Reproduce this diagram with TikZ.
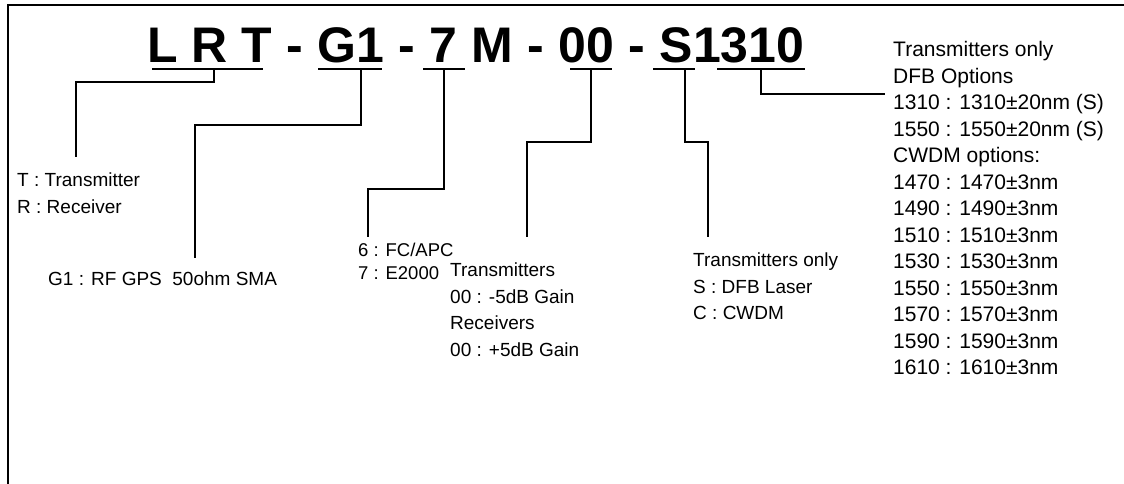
\documentclass[tikz,border=0pt]{standalone}
\usepackage{fontspec}
\setmainfont{Liberation Sans}
\usetikzlibrary{positioning}
\tikzset{
  code/.style={font=\fontsize{50}{60}\selectfont\bfseries, inner sep=0pt, text height=36pt, text depth=0pt},
  note/.style={font=\fontsize{19}{26.5}\selectfont, align=left, anchor=north west, inner sep=0pt},
  bignote/.style={note, font=\fontsize{21}{26.5}\selectfont},
  wire/.style={line width=1.2pt},
}
\newcommand{\spc}{13.9pt}

\begin{document}
\begin{tikzpicture}[x=1pt,y=-1pt]
\useasboundingbox (0,0) rectangle (1124,484);
\draw[line width=2.4pt] (8,484)--(8,5)--(1124,5);
% part number
\node[code,anchor=base west] (lrt) at (147,63) {L R T};
\node[code,right=\spc of lrt] (d1) {-};
\node[code,right=\spc of d1] (g1) {G1};
\node[code,right=\spc of g1] (d2) {-};
\node[code,right=\spc of d2] (con) {7};
\node[code,right=\spc of con] (m) {M};
\node[code,right=\spc of m] (d3) {-};
\node[code,right=\spc of d3] (gain) {00};
\node[code,right=\spc of gain] (d4) {-};
\node[code,right=\spc of d4] (src) {S};
\node[code,right=0pt of src] (wl) {1310};
% underlines and taps
\foreach \n/\a/\b/\t in {LRT/152/263/214, G/318/382/361, C/423/465/444, A/570/612/591, S/653/695/685, W/717/805/761}{
  \draw[wire] (\a,69) -- (\b,69);
  \coordinate (tap\n) at (\t,69);}
% option lists
\node[note] (trtext) at (17,173) {T : Transmitter\\R : Receiver};
\node[note] (g1text) at (48,272) {G1 : RF GPS\ \ 50ohm SMA};
\node[note, font=\fontsize{18.5}{23}\selectfont] (context) at (358,242.5) {6 : FC/APC\\7 : E2000};
\node[note] (gaintext) at (450,263) {Transmitters\\00 : -5dB Gain\\Receivers\\00 : +5dB Gain};
\node[note] (srctext) at (693,253) {Transmitters only\\S : DFB Laser\\C : CWDM};
\node[bignote] (wltext) at (893,41.5) {Transmitters only\\DFB Options\\1310 : 1310±20nm (S)\\1550 : 1550±20nm (S)\\CWDM options:\\
  1470 : 1470±3nm\\1490 : 1490±3nm\\1510 : 1510±3nm\\1530 : 1530±3nm\\1550 : 1550±3nm\\1570 : 1570±3nm\\1590 : 1590±3nm\\1610 : 1610±3nm};
% leaders
\draw[wire] (tapLRT) -- ++(0,13) -| ([xshift=59pt,yshift=16pt]trtext.north west);
\draw[wire] (tapG) -- ++(0,56) -| ([xshift=147pt,yshift=14pt]g1text.north west);
\draw[wire] (tapC) -- ++(0,120) -| ([xshift=10pt,yshift=5.5pt]context.north west);
\draw[wire] (tapA) -- ++(0,73) -| ([xshift=77pt,yshift=26pt]gaintext.north west);
\draw[wire] (tapS) -- ++(0,73) -| ([xshift=15pt,yshift=16pt]srctext.north west);
\draw[wire] (tapW) |- ([xshift=-8pt,yshift=-52.5pt]wltext.north west);
\end{tikzpicture}
\end{document}
